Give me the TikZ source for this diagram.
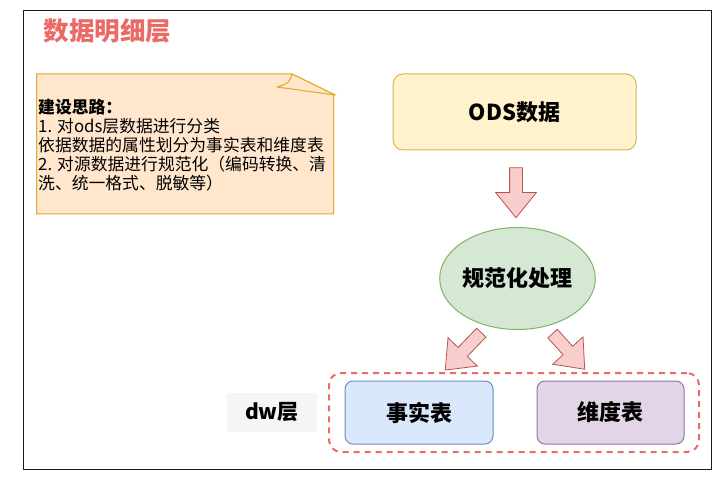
\documentclass[tikz,border=0pt]{standalone}
\usepackage{fontspec}
\setmainfont{Noto Sans CJK SC}
\usepackage{tikz}
\usetikzlibrary{positioning,shapes.geometric,shapes.arrows,calc}
\definecolor{dwred}   {RGB}{234,107,102}
\definecolor{notefill}{RGB}{255,230,204}
\definecolor{notedraw}{RGB}{222,170, 40}
\definecolor{odsfill} {RGB}{255,242,204}
\definecolor{odsdraw} {RGB}{214,182, 86}
\definecolor{procfill}{RGB}{213,232,212}
\definecolor{procdraw}{RGB}{130,179,102}
\definecolor{arrfill} {RGB}{248,206,204}
\definecolor{arrdraw} {RGB}{184, 84, 80}
\definecolor{factfill}{RGB}{218,232,252}
\definecolor{factdraw}{RGB}{108,142,191}
\definecolor{dimfill} {RGB}{225,213,231}
\definecolor{dimdraw} {RGB}{150,115,166}
\definecolor{lblgray} {RGB}{245,245,245}
\tikzset{
  box/.style={rounded corners=8pt,line width=1pt,minimum height=63pt,
              font=\fontsize{22}{26}\selectfont\bfseries},
  odsbox/.style={box,draw=odsdraw,fill=odsfill,rounded corners=10pt,
                 minimum width=243pt,minimum height=76pt},
  factbox/.style={box,draw=factdraw,fill=factfill,minimum width=148pt},
  dimbox/.style={box,draw=dimdraw,fill=dimfill,minimum width=147pt},
  procell/.style={ellipse,draw=procdraw,fill=procfill,line width=1pt,
                  minimum width=154pt,minimum height=102pt,inner sep=0pt,
                  font=\fontsize{22}{26}\selectfont\bfseries},
  barrow/.style={single arrow,draw=arrdraw,fill=arrfill,line width=0.8pt,
                 minimum height=50pt,inner sep=0pt,text width=0pt,
                 text height=12pt,text depth=0pt,
                 single arrow head extend=14pt,single arrow tip angle=78},
  grpbox/.style={draw=dwred,line width=2pt,dash pattern=on 6pt off 5pt,
                 rounded corners=12pt,minimum width=370pt,minimum height=79pt},
  lbl/.style={fill=lblgray,minimum width=90pt,minimum height=39pt,
              font=\fontsize{21}{25}\selectfont\bfseries},
}
\begin{document}
\begin{tikzpicture}[x=1pt,y=-1pt]
  \useasboundingbox (0,0) rectangle (727,478);
  \draw[line width=1.5pt,color=black!90] (23.5,10.5) rectangle (711.5,469.5);

  \node[anchor=west,text=dwred,font=\fontsize{25.5}{28}\selectfont\bfseries]
    (title) at (40,31) {数据明细层};

  % note with folded corner
  \draw[draw=notedraw,fill=notefill,line width=1pt]
    (36.5,74) -- (292,74) -- (335,95) -- (333.5,95) -- (333.5,214)
    -- (36.5,214) -- cycle;
  \draw[draw=notedraw,fill=notefill,line width=1pt,line join=round]
    (292,74) .. controls (289,83) .. (277,87) -- (335,95) -- cycle;
  \node[anchor=west,align=left,inner sep=0pt,
        font=\fontsize{16.8}{19}\selectfont] (notetxt) at (38,145)
    {\textbf{建设思路：}\\
     1. 对ods层数据进行分类\\
     依据数据的属性划分为事实表和维度表\\
     2. 对源数据进行规范化（编码转换、清\\
     洗、统一格式、脱敏等）};

  \node[odsbox] (ods) at (514.5,112) {ODS数据};
  \node[procell] (proc) at (517.5,278.5) {规范化处理};
  \node[grpbox] (dw) at (514,412.5) {};
  \node[factbox] (fact) at (419,412.5) {事实表};
  \node[dimbox] (dim) at (610.5,412.5) {维度表};
  \node[lbl] (dwlbl) at (272,412.5) {dw层};

  \node[barrow,rotate=-90] (a1) at ($(ods.south)!0.5!(proc.north)$) {};
  \node[barrow,rotate=-134,minimum height=52pt] (a2) at (466,348.5) {};
  \node[barrow,rotate=-48,minimum height=48pt] (a3) at (566,348.5) {};
\end{tikzpicture}
\end{document}
